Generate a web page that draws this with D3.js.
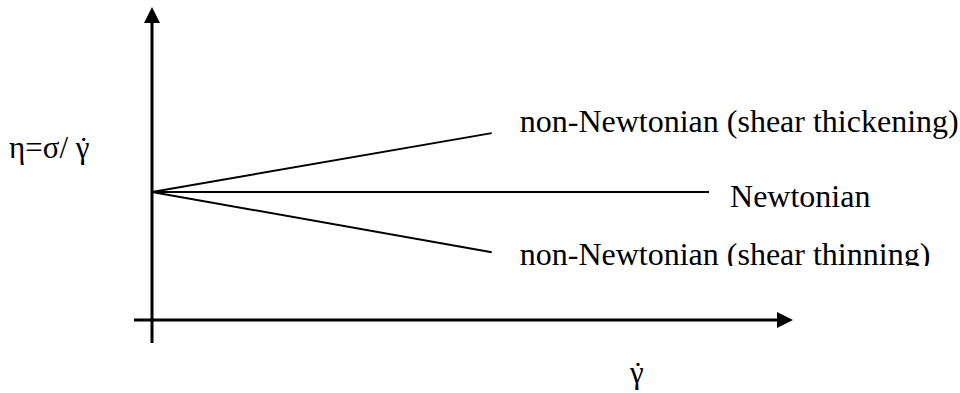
<!DOCTYPE html>
<html>
<head>
<meta charset="utf-8">
<script src="https://cdn.jsdelivr.net/npm/d3@7"></script>
<style>
  html, body { margin: 0; padding: 0; background: #fff; }
  svg { display: block; }
  text { font-family: "Liberation Serif", "Times New Roman", serif; fill: #000; }
</style>
</head>
<body>
<svg id="chart" width="960" height="393"></svg>
<script>
// Flow curves: apparent viscosity against shear rate (schematic)
const curveNames = ["non-Newtonian (shear thickening)", "Newtonian", "non-Newtonian (shear thinning)"];
const startRate = [0, 0, 0];
const endRate = [0.53, 0.869, 0.53];
const startViscosity = [1, 1, 1];
const endViscosity = [1.46, 1, 0.53];

// Axis titles; the dot over the shear-rate symbol is set as its own tspan
const yAxisLabel = "η=σ/ γ";
const xAxisLabel = "γ";
const overDot = "˙";

const svg = d3.select("#chart");
const width = 960, height = 393;

const x = d3.scaleLinear().domain([0, 1]).range([152, 793]);
const y = d3.scaleLinear().domain([0, 1]).range([320, 192]);

// Axes with arrowheads
const g = svg.append("g");
g.append("line")
  .attr("x1", x(0)).attr("x2", x(0))
  .attr("y1", 343).attr("y2", 22)
  .attr("stroke", "#000").attr("stroke-width", 3);
g.append("path")
  .attr("d", `M${x(0)},7 L${x(0) - 8},23 L${x(0) + 8},23 Z`)
  .attr("fill", "#000");

g.append("line")
  .attr("x1", 134).attr("x2", 780)
  .attr("y1", y(0)).attr("y2", y(0))
  .attr("stroke", "#000").attr("stroke-width", 3);
g.append("path")
  .attr("d", `M${x(1)},${y(0)} L${x(1) - 16},${y(0) - 8} L${x(1) - 16},${y(0) + 8} Z`)
  .attr("fill", "#000");

// Curves
const curves = curveNames.map((name, i) => ({
  name,
  x0: startRate[i], x1: endRate[i],
  y0: startViscosity[i], y1: endViscosity[i]
}));

g.selectAll("line.curve")
  .data(curves)
  .enter().append("line")
  .attr("class", "curve")
  .attr("x1", d => x(d.x0)).attr("y1", d => y(d.y0))
  .attr("x2", d => x(d.x1)).attr("y2", d => y(d.y1))
  .attr("stroke", "#000").attr("stroke-width", 2);

// Curve labels (the lowest one is cut off at its baseline)
const labelOffset = [{dx: 28, dy: -1}, {dx: 21, dy: 15}, {dx: 28, dy: 13}];
svg.append("defs").append("clipPath").attr("id", "clipLow")
  .append("rect").attr("x", 0).attr("y", 0).attr("width", width).attr("height", 266);

g.selectAll("text.curve-label")
  .data(curves)
  .enter().append("text")
  .attr("class", "curve-label")
  .attr("x", (d, i) => x(d.x1) + labelOffset[i].dx)
  .attr("y", (d, i) => y(d.y1) + labelOffset[i].dy)
  .attr("font-size", 32)
  .attr("clip-path", (d, i) => i === 2 ? "url(#clipLow)" : null)
  .text(d => d.name);

// Axis titles: one text element each, the dot pulled back over the last glyph
function dottedTitle(label, tx, ty, size) {
  const t = svg.append("text")
    .attr("x", tx).attr("y", ty)
    .attr("font-size", size);
  t.append("tspan").text(label);
  const dot = t.append("tspan").text(overDot);
  const node = t.node();
  const last = label.length - 1;
  const gw = node.getEndPositionOfChar(last).x - node.getStartPositionOfChar(last).x;
  const dw = dot.node().getComputedTextLength();
  dot.attr("dx", -(gw / 2 + dw / 2) + 1).attr("dy", 1);
}

dottedTitle(yAxisLabel, 9, 158, 31);
dottedTitle(xAxisLabel, 630, 383, 31);
</script>
</body>
</html>
